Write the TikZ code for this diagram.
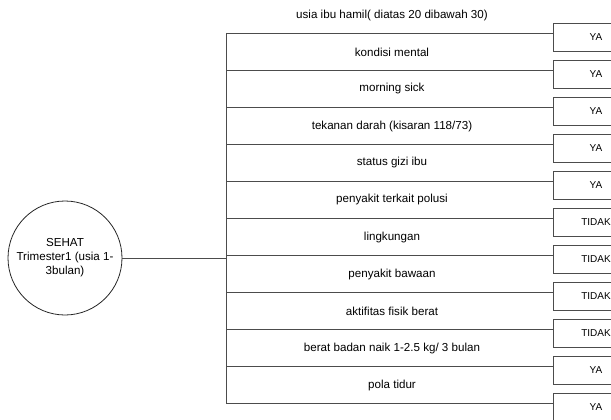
\documentclass[tikz,border=0pt]{standalone}
\usepackage{fontspec}
\setmainfont{Liberation Sans}
\usetikzlibrary{positioning}

\begin{document}
\begin{tikzpicture}[x=1pt, y=-1pt, font=\fontsize{11.6}{14}\selectfont,
  link/.style={draw=black!70, line width=0.8pt},
  answer/.style={draw=black!70, line width=0.8pt, minimum width=86pt,
    minimum height=28pt, inner sep=0pt, font=\fontsize{10}{12}\selectfont},
  state/.style={circle, draw=black!85, line width=0.8pt, minimum size=114pt,
    align=center, inner sep=0pt}]
  \clip (0,0) rectangle (611,420);
  % root state on the left
  \node[state] (sehat) at (65,258) {SEHAT\\Trimester1 (usia 1-\\3bulan)};
  % vertical spine
  \coordinate (top) at (226,33);
  \coordinate (bottom) at (226,403);
  \draw[link] (top) -- (bottom);
  \draw[link] (sehat.east) -- (sehat.east -| top);
  % one branch per criterion, answer box at the end
  \foreach \i/\crit/\ans in {
      0/{usia ibu hamil( diatas 20 dibawah 30)}/YA,
      1/{kondisi mental}/YA,
      2/{morning sick}/YA,
      3/{tekanan darah (kisaran 118/73)}/YA,
      4/{status gizi ibu}/YA,
      5/{penyakit terkait polusi}/TIDAK,
      6/{lingkungan}/TIDAK,
      7/{penyakit bawaan}/TIDAK,
      8/{aktifitas fisik berat}/TIDAK,
      9/{berat badan naik 1-2.5 kg/ 3 bulan}/YA,
      10/{pola tidur}/YA} {
    \pgfmathsetmacro{\yy}{33+37*\i}
    \coordinate (s\i) at (226,\yy);
    \node[answer] (a\i) at (596,\yy+4) {\ans};
    \draw[link] (s\i) -- (s\i -| a\i.west);
    \node (c\i) at (392,\yy-18) {\crit};
  }
\end{tikzpicture}
\end{document}
